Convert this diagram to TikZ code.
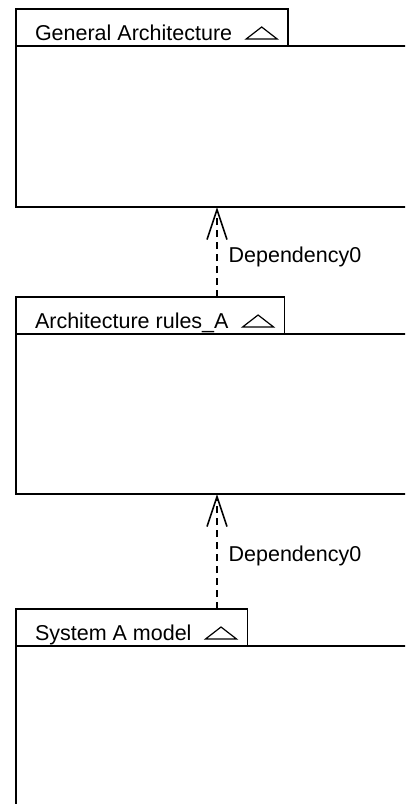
\documentclass[tikz,border=0pt]{standalone}
\usepackage{fontspec}
\setmainfont{Liberation Sans}
\usetikzlibrary{arrows.meta}

\begin{document}
\begin{tikzpicture}[
  x=1pt, y=-1pt,
  every node/.style={font=\fontsize{21.5}{24}\selectfont},
  pkgtab/.style={draw, line width=1.6pt, outer sep=0pt, anchor=north west, minimum height=37pt,
    inner xsep=19pt, inner ysep=4pt, text height=27pt, text depth=2pt},
  pkgbody/.style={draw, line width=1.6pt, outer sep=0pt, anchor=north west, minimum width=420pt},
  dep/.style={dashed, dash pattern=on 7pt off 5pt, line width=1.3pt,
    -{Straight Barb[length=30pt, width=20pt, line width=1.6pt]}},
  deplabel/.style={right=11pt, inner sep=0pt}
]
\path[use as bounding box, clip] (0,0) rectangle (405,804);

% packages
\node[pkgtab] (gaTab) at (16,9) {General Architecture\rule{37pt}{0pt}};
\node[pkgbody, minimum height=161pt] (gaBody) at (gaTab.south west) {};

\node[pkgtab] (arTab) at (16,297) {Architecture rules\_A\rule{37pt}{0pt}};
\node[pkgbody, minimum height=160pt] (arBody) at (arTab.south west) {};

\node[pkgtab] (saTab) at (16,609) {System A model\rule{37pt}{0pt}};
\node[pkgbody, minimum height=160pt] (saBody) at (saTab.south west) {};

% package triangles
\foreach \t in {gaTab, arTab, saTab}
  \draw[line width=1.2pt] ([xshift=-42pt]\t.south east) ++(0,-7) -- ++(31,0) -- ++(-15.5,-12) -- cycle;

% dependencies
\draw[dep] ([xshift=201pt]arTab.north west) -- node[deplabel, pos=0.44] {Dependency0} ([xshift=201pt]gaBody.south west);
\draw[dep] ([xshift=201pt]saTab.north west) -- node[deplabel, pos=0.46] {Dependency0} ([xshift=201pt]arBody.south west);
\end{tikzpicture}
\end{document}
